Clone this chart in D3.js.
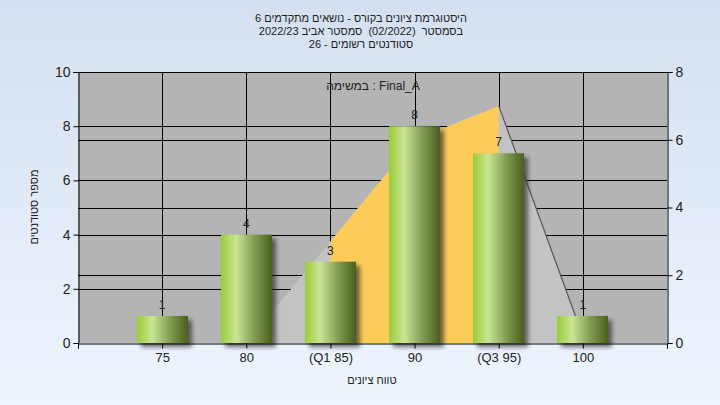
<!DOCTYPE html>
<html><head><meta charset="utf-8">
<script src="https://cdn.jsdelivr.net/npm/d3@7"></script>
<style>body{margin:0;padding:0;overflow:hidden}svg{display:block}text{font-family:"Liberation Sans",Arial,sans-serif;white-space:pre}</style>
</head><body>
<svg id="c" width="720" height="405"></svg>
<script>
const categories = ["75","80","(Q1 85)","90","(Q3 95)","100"];
const counts = [1,4,3,8,7,1];
const curveValues = [0,0,3,6,7,0.2];
const leftTicks = [0,2,4,6,8,10];
const rightTicks = [0,2,4,6,8];
const titleLines = ["היסטוגרמת ציונים בקורס - נושאים מתקדמים 6","בסמסטר  (02/2022)  סמסטר אביב 2022/23","סטודנטים רשומים - 26"];
const subtitle = "במשימה : Final_A";
const yTitle = "מספר סטודנטים";
const xTitle = "טווח ציונים";

const svg = d3.select("#c");
const L=78, R=667, T=72, B=343;
const x = d3.scaleLinear().domain([0,7]).range([L,R]);
const yL = d3.scaleLinear().domain([0,10]).range([B,T]);
const yR = d3.scaleLinear().domain([0,8]).range([B,T]);
const defs = svg.append("defs");
const bg = defs.append("linearGradient").attr("id","bg").attr("x1",0).attr("y1",0).attr("x2",0).attr("y2",1);
bg.append("stop").attr("offset",0).attr("stop-color","#d4e0f1");
bg.append("stop").attr("offset",1).attr("stop-color","#eef5fd");
const bar = defs.append("linearGradient").attr("id","bar").attr("x1",0).attr("y1",0).attr("x2",1).attr("y2",0);
[[0,"#9acd38"],[0.3,"#cae594"],[0.65,"#829c52"],[1,"#4a5f1f"]].forEach(s=>bar.append("stop").attr("offset",s[0]).attr("stop-color",s[1]));
const f = defs.append("filter").attr("id","sh").attr("x","-20%").attr("y","-20%").attr("width","150%").attr("height","150%");
f.append("feDropShadow").attr("dx",4).attr("dy",4).attr("stdDeviation",2.2).attr("flood-color","#222").attr("flood-opacity",0.65);
defs.append("clipPath").attr("id","iqr").append("rect").attr("x",x(3)).attr("y",T).attr("width",x(5)-x(3)).attr("height",B-T);

svg.append("rect").attr("width",720).attr("height",405).attr("fill","url(#bg)");
svg.append("rect").attr("x",L).attr("y",T).attr("width",R-L).attr("height",B-T).attr("fill","#b4b4b4");

const grid = svg.append("g").attr("stroke","#000").attr("stroke-width",1);
[2,4,6,8].forEach(v=>grid.append("line").attr("x1",L).attr("x2",R).attr("y1",Math.round(yL(v))+0.5).attr("y2",Math.round(yL(v))+0.5));
[2,4,6].forEach(v=>grid.append("line").attr("x1",L).attr("x2",R).attr("y1",Math.round(yR(v))+0.5).attr("y2",Math.round(yR(v))+0.5));
categories.forEach((c,i)=>grid.append("line").attr("x1",Math.round(x(i+1))+0.5).attr("x2",Math.round(x(i+1))+0.5).attr("y1",T).attr("y2",B));

const pts = curveValues.map((v,i)=>[x(i+1),yR(v)]);
const area = d3.area().x(d=>d[0]).y0(B).y1(d=>d[1]);
svg.append("path").attr("d",area(pts)).attr("fill","#c3c3c3");
svg.append("path").attr("d",area(pts)).attr("fill","#fdcb57").attr("clip-path","url(#iqr)");
svg.append("path").attr("d",d3.line()(pts.slice(4))).attr("stroke","#555").attr("stroke-width",1.2).attr("fill","none");

const bw = 51;
svg.append("g").selectAll("rect").data(counts).join("rect")
  .attr("x",(d,i)=>Math.round(x(i+1)-bw/2)).attr("y",d=>yL(d)).attr("width",bw).attr("height",d=>B-yL(d))
  .attr("fill","url(#bar)").attr("filter","url(#sh)");
svg.append("g").selectAll("text").data(counts).join("text")
  .attr("x",(d,i)=>x(i+1)).attr("y",d=>yL(d)-7).attr("text-anchor","middle").attr("font-size",12).attr("fill","#222").text(d=>d);

// axes
const la = svg.append("g").attr("transform",`translate(${L+0.5},0)`).call(d3.axisLeft(yL).tickValues(leftTicks).tickSize(5).tickPadding(3));
const ra = svg.append("g").attr("transform",`translate(${R+0.5},0)`).call(d3.axisRight(yR).tickValues(rightTicks).tickSize(5).tickPadding(3));
const ba = svg.append("g").attr("transform",`translate(0,${B+0.5})`).call(d3.axisBottom(x).tickValues([0,1,2,3,4,5,6,7]).tickSize(5).tickPadding(4).tickFormat(d=>(d>=1&&d<=6)?categories[d-1]:""));
[la,ra,ba].forEach(a=>{a.select(".domain").attr("stroke","#000");a.selectAll(".tick line").attr("stroke","#000");a.selectAll("text").attr("font-size",14).attr("fill","#222").attr("font-family","Liberation Sans, Arial, sans-serif");});
ba.selectAll("text").attr("font-size",13);
svg.append("line").attr("x1",L).attr("x2",R+1).attr("y1",T+0.5).attr("y2",T+0.5).attr("stroke","#000");

// texts
titleLines.forEach((t,i)=>svg.append("text").attr("x",361).attr("y",22+i*13).attr("text-anchor","middle").attr("direction","rtl").attr("font-size",11).attr("fill","#222").text(t));
svg.append("text").attr("x",373).attr("y",90).attr("text-anchor","middle").attr("font-size",12).attr("fill","#222").text(subtitle);
svg.append("text").attr("transform","translate(38,207) rotate(-90)").attr("text-anchor","middle").attr("font-size",11).attr("fill","#222").text(yTitle);
svg.append("text").attr("x",372).attr("y",384).attr("text-anchor","middle").attr("font-size",11).attr("fill","#222").text(xTitle);
</script>
</body></html>
